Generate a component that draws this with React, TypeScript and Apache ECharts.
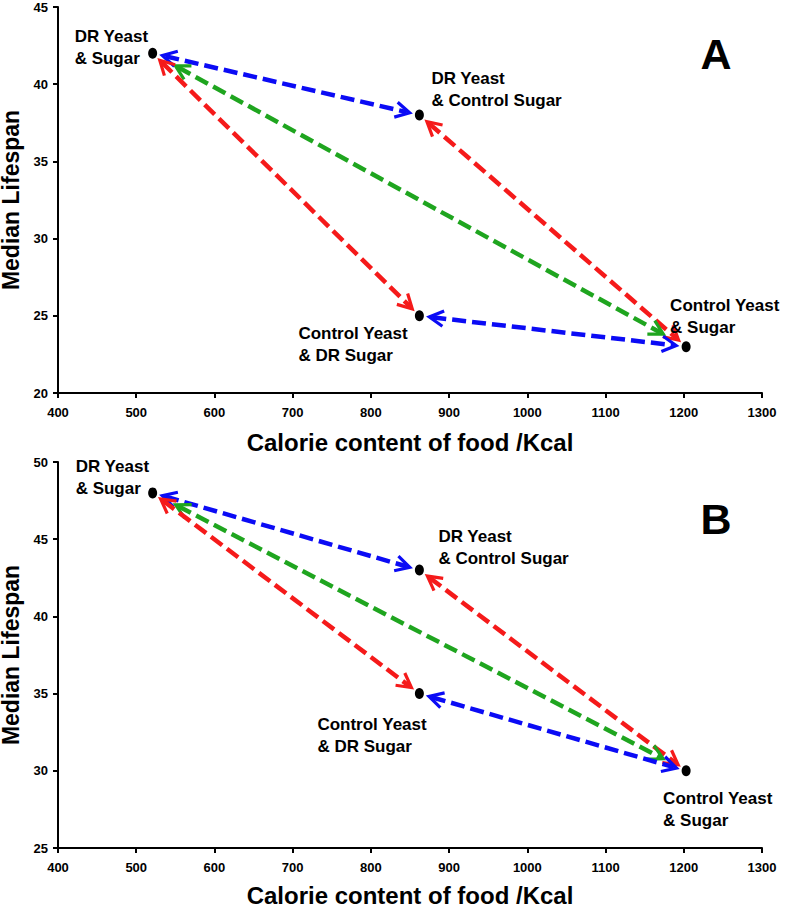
import { useEffect, useRef } from 'react';
import * as echarts from 'echarts';

// ---- data ----
const calories = [521, 862, 862, 1203];
const lifespanA = [42, 38, 25, 23];
const lifespanB = [48, 43, 35, 30];
const pointLabels = [
  'DR Yeast\n& Sugar',
  'DR Yeast\n& Control Sugar',
  'Control Yeast\n& DR Sugar',
  'Control Yeast\n& Sugar',
];
// arrows join point indices
const arrowPairs = [
  [0, 1],
  [1, 3],
  [0, 3],
  [0, 2],
  [2, 3],
];
const arrowKinds = ['blue', 'red', 'green', 'red', 'blue'];
const xRange = [400, 1300];
const xStep = 100;
const yRangeA = [20, 45];
const yRangeB = [25, 50];
const yStep = 5;
const xAxisTitle = 'Calorie content of food /Kcal';
const yAxisTitle = 'Median Lifespan';
const panelLetters = ['A', 'B'];

// ---- layout / style ----
const FONT = '"Liberation Sans", Arial, Helvetica, sans-serif';
const KIND_STYLE: Record<string, { color: string; gap: number }> = {
  blue: { color: '#0b0bf5', gap: 10 },
  red: { color: '#f51a1a', gap: 10 },
  green: { color: '#1fa51f', gap: 26 },
};
const LABEL_OFFSETS_A = [
  [-78, -28],
  [12, -48],
  [-121, 7],
  [-16, -52],
];
const LABEL_OFFSETS_B = [
  [-77, -37],
  [19, -45],
  [-102, 20],
  [-23, 17],
];
const SYM_W = 9;
const SYM_H = 11;

function renderArrow(params: any, api: any) {
  const st = KIND_STYLE[arrowKinds[params.dataIndex]];
  const a = api.coord([api.value(0), api.value(1)]);
  const b = api.coord([api.value(2), api.value(3)]);
  const dx = b[0] - a[0];
  const dy = b[1] - a[1];
  const len = Math.hypot(dx, dy);
  const ux = dx / len;
  const uy = dy / len;
  const g = st.gap;
  const s = [a[0] + ux * g, a[1] + uy * g];
  const e = [b[0] - ux * g, b[1] - uy * g];
  const L = 16;
  const ang = 0.5;
  const c = Math.cos(ang);
  const sn = Math.sin(ang);
  const head = (tip: number[], vx: number, vy: number) => {
    const w1 = [tip[0] + L * (vx * c - vy * sn), tip[1] + L * (vx * sn + vy * c)];
    const w2 = [tip[0] + L * (vx * c + vy * sn), tip[1] + L * (-vx * sn + vy * c)];
    return {
      type: 'polyline',
      shape: { points: [w1, tip, w2] },
      style: { stroke: st.color, lineWidth: 3.2, fill: null, lineJoin: 'miter' },
    };
  };
  return {
    type: 'group',
    children: [
      {
        type: 'line',
        shape: { x1: s[0] + ux * 3, y1: s[1] + uy * 3, x2: e[0] - ux * 3, y2: e[1] - uy * 3 },
        style: { stroke: st.color, lineWidth: 4.5, lineDash: [14, 6] },
      },
      head(s, ux, uy),
      head(e, -ux, -uy),
    ],
  };
}

function buildPanel(i: number, ys: number[], offsets: number[][]) {
  const arrowData = arrowPairs.map(([p, q]) => [calories[p], ys[p], calories[q], ys[q]]);
  const pointData = calories.map((x, k) => ({
    value: [x, ys[k]],
    label: {
      show: true,
      formatter: pointLabels[k],
      position: [offsets[k][0] + SYM_W / 2, offsets[k][1] + SYM_H / 2],
      align: 'left',
      verticalAlign: 'top',
      fontFamily: FONT,
      fontWeight: 'bold',
      fontSize: 17,
      lineHeight: 22,
      color: '#000',
    },
  }));
  return [
    {
      type: 'custom',
      xAxisIndex: i,
      yAxisIndex: i,
      renderItem: renderArrow,
      encode: { x: [0, 2], y: [1, 3] },
      data: arrowData,
      z: 2,
    },
    {
      type: 'scatter',
      xAxisIndex: i,
      yAxisIndex: i,
      symbol: 'circle',
      symbolSize: [SYM_W, SYM_H],
      itemStyle: { color: '#000', opacity: 1 },
      emphasis: { disabled: true },
      data: pointData,
      z: 3,
    },
  ];
}

const axisLineStyle = { color: '#000', width: 2 };
const nameStyle = { color: '#000', fontFamily: FONT, fontWeight: 'bold', fontSize: 24 };
const yNameStyle = { color: '#000', fontFamily: FONT, fontWeight: 'bold', fontSize: 23, lineHeight: 23 };

function makeX(i: number, gap: number) {
  return {
    type: 'value',
    gridIndex: i,
    min: xRange[0],
    max: xRange[1],
    interval: xStep,
    name: xAxisTitle,
    nameLocation: 'middle',
    nameGap: gap,
    nameTextStyle: nameStyle,
    axisLine: { show: true, onZero: false, lineStyle: axisLineStyle },
    axisTick: { show: true, length: 5, lineStyle: axisLineStyle },
    axisLabel: {
      show: true,
      margin: 13,
      color: '#000',
      fontFamily: FONT,
      fontWeight: 'bold',
      fontSize: 13,
      formatter: (v: number) => String(v),
    },
    splitLine: { show: false },
  };
}

function makeY(i: number, range: number[]) {
  return {
    type: 'value',
    gridIndex: i,
    min: range[0],
    max: range[1],
    interval: yStep,
    name: yAxisTitle,
    nameLocation: 'middle',
    nameRotate: 90,
    nameGap: 29,
    nameTextStyle: yNameStyle,
    axisLine: { show: true, onZero: false, lineStyle: axisLineStyle },
    axisTick: { show: true, length: 5, lineStyle: axisLineStyle },
    axisLabel: {
      show: true,
      margin: 10,
      color: '#000',
      fontFamily: FONT,
      fontWeight: 'bold',
      fontSize: 13,
      formatter: (v: number) => String(v),
    },
    splitLine: { show: false },
  };
}

export default function App() {
  const ref = useRef<HTMLDivElement>(null);
  useEffect(() => {
    document.body.style.margin = '0';
    const chart = echarts.init(ref.current!, null, { renderer: 'svg' });
    chart.setOption({
      animation: false,
      backgroundColor: '#fff',
      textStyle: { fontFamily: FONT, fontWeight: 'bold', color: '#000' },
      grid: [
        { left: 58, top: 7, width: 704, height: 386, containLabel: false, outerBoundsMode: 'none' },
        { left: 58, top: 462, width: 704, height: 386, containLabel: false, outerBoundsMode: 'none' },
      ],
      xAxis: [makeX(0, 37), makeX(1, 35)],
      yAxis: [makeY(0, yRangeA), makeY(1, yRangeB)],
      series: [...buildPanel(0, lifespanA, LABEL_OFFSETS_A), ...buildPanel(1, lifespanB, LABEL_OFFSETS_B)],
      graphic: [
        {
          type: 'text',
          x: 716,
          y: 54,
          style: {
            text: panelLetters[0],
            font: `bold 43px ${FONT}`,
            fill: '#000',
            align: 'center',
            verticalAlign: 'middle',
          },
        },
        {
          type: 'text',
          x: 716,
          y: 519,
          style: {
            text: panelLetters[1],
            font: `bold 43px ${FONT}`,
            fill: '#000',
            align: 'center',
            verticalAlign: 'middle',
          },
        },
      ],
    });
    return () => chart.dispose();
  }, []);
  return (
    <div
      ref={ref}
      style={{ position: 'absolute', left: 0, top: 0, width: 785, height: 909 }}
    />
  );
}
